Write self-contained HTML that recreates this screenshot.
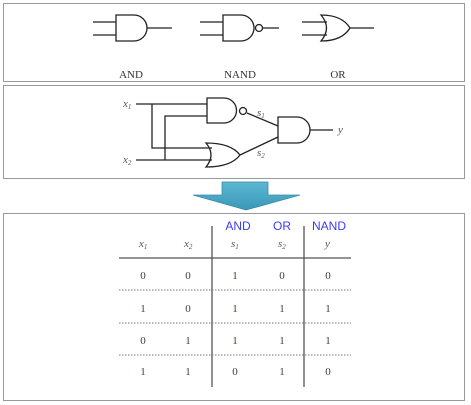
<!DOCTYPE html>
<html><head><style>
body{margin:0;background:#fff;width:471px;height:405px;overflow:hidden}
svg{display:block}
.s{font-family:"Liberation Serif",serif}
.b{font-family:"Liberation Sans",sans-serif;fill:#3b3bf0;font-size:12px}
</style></head><body>
<svg width="471" height="405" viewBox="0 0 471 405">
<defs><linearGradient id="g" x1="0" y1="0" x2="0" y2="1"><stop offset="0" stop-color="#5bb8d4"/><stop offset="1" stop-color="#3a98b8"/></linearGradient></defs>
<g fill="none" stroke="#999" stroke-width="1">
<rect x="3.5" y="3.5" width="461" height="78"/>
<rect x="3.5" y="85.5" width="461" height="93"/>
<rect x="3.5" y="213.5" width="461" height="187"/>
</g>
<g fill="none" stroke="#222" stroke-width="1.3">
<!-- AND -->
<path d="M93 22H116M93 35H116M116 15H134A13 13 0 0 1 134 41H116Z M147 28H172"/>
<!-- NAND -->
<path d="M200 22H223M200 35H223M223 15H241A13 13 0 0 1 241 41H223Z M263 28H279"/>
<circle cx="259" cy="28" r="3.5"/>
<!-- OR -->
<path d="M302 22H327M302 35H327M321 15Q332 28 321 41Q342 41 350 28Q342 15 321 15Z M350 28H374"/>
<!-- circuit -->
<path d="M136 104H207M152 104V148H212M165 160V116H207M136 160H212"/>
<path d="M207 98H224A12.5 12.5 0 0 1 224 123H207Z"/>
<circle cx="243" cy="111" r="3.5"/>
<path d="M206 143Q216 155 206 167Q231 167 240 155Q231 143 206 143Z"/>
<path d="M278 117H297A13 13 0 0 1 297 143H278Z M310 130H333"/>
<path d="M247 113L278 126M240 155L278 137"/>
<!-- table -->
<path d="M212 226V387M304 226V387M119 258H351" stroke="#555"/>
<path d="M119 290H351M119 323H351M119 355H351" stroke="#777" stroke-dasharray="1.5 1.5" stroke-width="1"/>
</g>
<path d="M222 182H268V195H300L246 210L193 195H222Z" fill="url(#g)" stroke="#3a8aa8" stroke-width="0.8"/>
<g class="s" font-size="11" fill="#333" text-anchor="middle">
<text x="131" y="78">AND</text><text x="240" y="78">NAND</text><text x="338" y="78">OR</text>
</g>
<g class="s" font-size="11" fill="#555" font-style="italic">
<text x="123" y="107">x<tspan font-size="7" dy="2">1</tspan></text>
<text x="123" y="163">x<tspan font-size="7" dy="2">2</tspan></text>
<text x="257" y="116">s<tspan font-size="7" dy="2">1</tspan></text>
<text x="257" y="156">s<tspan font-size="7" dy="2">2</tspan></text>
<text x="338" y="133">y</text>
<text x="139" y="247">x<tspan font-size="7" dy="2">1</tspan></text>
<text x="184" y="247">x<tspan font-size="7" dy="2">2</tspan></text>
<text x="231" y="247">s<tspan font-size="7" dy="2">1</tspan></text>
<text x="278" y="247">s<tspan font-size="7" dy="2">2</tspan></text>
<text x="325" y="247">y</text>
</g>
<g class="b" text-anchor="middle"><text x="238" y="230">AND</text><text x="282" y="230">OR</text><text x="329" y="230">NAND</text></g>
<g class="s" font-size="11" fill="#4a3a30" text-anchor="middle">
<text x="143" y="279">0</text><text x="188" y="279">0</text><text x="235" y="279">1</text><text x="282" y="279">0</text><text x="328" y="279">0</text>
<text x="143" y="312">1</text><text x="188" y="312">0</text><text x="235" y="312">1</text><text x="282" y="312">1</text><text x="328" y="312">1</text>
<text x="143" y="344">0</text><text x="188" y="344">1</text><text x="235" y="344">1</text><text x="282" y="344">1</text><text x="328" y="344">1</text>
<text x="143" y="375">1</text><text x="188" y="375">1</text><text x="235" y="375">0</text><text x="282" y="375">1</text><text x="328" y="375">0</text>
</g>
</svg>
</body></html>
